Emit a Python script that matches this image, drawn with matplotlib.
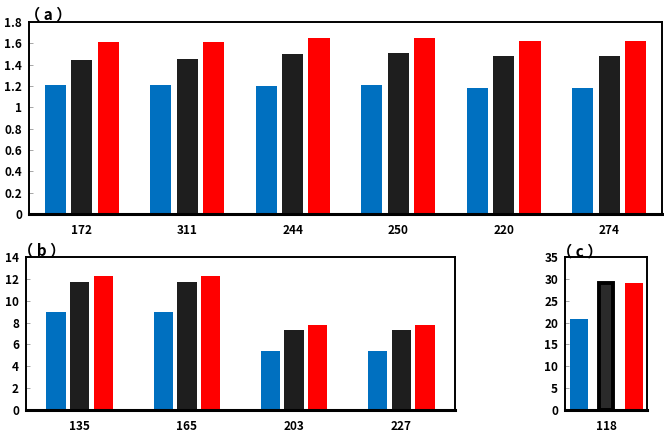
import matplotlib
matplotlib.use("Agg")
import matplotlib.pyplot as plt
import numpy as np

plt.rcParams['font.family'] = ['Noto Sans CJK SC', 'DejaVu Sans']
plt.rcParams['font.weight'] = 'bold'

# data
cats_a = ["172", "311", "244", "250", "220", "274"]
blue_a = [1.21, 1.21, 1.20, 1.21, 1.18, 1.18]
black_a = [1.44, 1.45, 1.50, 1.51, 1.48, 1.48]
red_a = [1.61, 1.61, 1.65, 1.65, 1.62, 1.62]

cats_b = ["135", "165", "203", "227"]
blue_b = [9.0, 9.0, 5.4, 5.4]
black_b = [11.7, 11.7, 7.3, 7.3]
red_b = [12.3, 12.3, 7.8, 7.8]

cats_c = ["118"]
blue_c = [20.8]
black_c = [29.0]
red_c = [29.0]

BLUE = "#0070C0"
BLACK = "#1E1E1E"
RED = "#FF0000"

fig = plt.figure(figsize=(6.64, 4.33), dpi=100)
ax_a = fig.add_axes([0.0437, 0.5058, 0.953, 0.4434])
ax_b = fig.add_axes([0.0392, 0.0531, 0.646, 0.3533])
ax_c = fig.add_axes([0.851, 0.0531, 0.1235, 0.3533])


def draw(ax, cats, b, k, r, off, w, ylim, yticks, ylabels, black_edge=False):
    x = np.arange(len(cats))
    ax.bar(x - off, b, w, color=BLUE)
    if black_edge:
        # black bar in (c) has a heavy outline
        ax.bar(x, k, w * 0.75, color="#2a2a2a", edgecolor="black", linewidth=2.8)
    else:
        ax.bar(x, k, w, color=BLACK)
    ax.bar(x + off, r, w, color=RED)
    ax.set_xlim(-0.5, len(cats) - 0.5)
    ax.set_ylim(*ylim)
    ax.set_xticks(x)
    ax.set_xticklabels(cats, fontsize=8.5, fontweight='bold')
    ax.set_yticks(yticks)
    ax.set_yticklabels(ylabels, fontsize=8.5, fontweight='bold')
    ax.tick_params(axis='x', length=0, pad=7)
    ax.tick_params(axis='y', direction='in', length=3, width=0.6, color='#999999', pad=5)
    for s in ['top', 'right', 'left']:
        ax.spines[s].set_linewidth(1.4)
    ax.spines['bottom'].set_linewidth(2.2)


draw(ax_a, cats_a, blue_a, black_a, red_a, 0.25, 0.2, (0, 1.8),
     np.arange(0, 1.81, 0.2), ["0", "0.2", "0.4", "0.6", "0.8", "1", "1.2", "1.4", "1.6", "1.8"])
draw(ax_b, cats_b, blue_b, black_b, red_b, 0.22, 0.18, (0, 14),
     range(0, 15, 2), [str(v) for v in range(0, 15, 2)])
draw(ax_c, cats_c, blue_c, black_c, red_c, 0.335, 0.22, (0, 35),
     range(0, 36, 5), [str(v) for v in range(0, 36, 5)], black_edge=True)

fig.text(48 / 664, 1 - 14 / 433, "（ a ）", fontsize=11, fontweight='bold', ha='center', va='center')
fig.text(42 / 664, 1 - 250 / 433, "（ b ）", fontsize=11, fontweight='bold', ha='center', va='center')
fig.text(580 / 664, 1 - 251 / 433, "（ c ）", fontsize=11, fontweight='bold', ha='center', va='center')

fig.savefig("out.png", dpi=100)
